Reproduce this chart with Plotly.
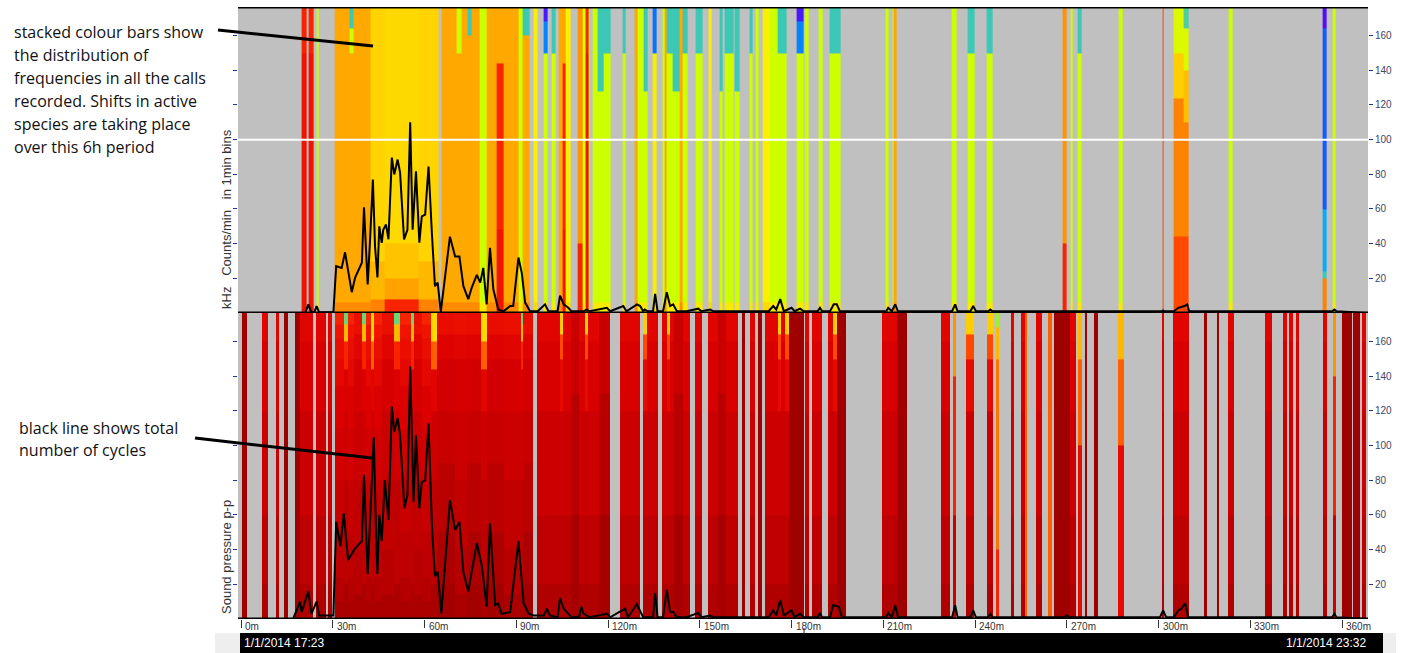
import plotly.graph_objects as go

# ---------------- data ----------------
x_tick_vals = [0, 30, 60, 90, 120, 150, 180, 210, 240, 270, 300, 330, 360]
x_tick_text = ["0m", "30m", "60m", "90m", "120m", "150m", "180m", "210m",
               "240m", "270m", "300m", "330m", "360m"]
y_tick_vals = [20, 40, 60, 80, 100, 120, 140, 160]
start_label = "1/1/2014 17:23"
end_label = "1/1/2014 23:32"
top_title = "kHz\u00a0\u00a0\u00a0Counts/min\u00a0\u00a0\u00a0in 1min bins"
bottom_title = "Sound pressure p-p"

# (start minute, end minute, colour-profile code) for the frequency panel
top_bars = [
    (19.8, 21.5, 'r'), (22.0, 23.6, 'r'), (24.7, 25.5, 'g'),
    (30.7, 35.6, 'o'), (35.6, 36.7, 'oc'), (36.7, 42.2, 'o'),
    (42.2, 47.0, 'y'), (47.0, 58.0, 'y2'), (58.0, 64.5, 'y'),
    (65.5, 70.6, 'o'), (70.6, 72.0, 'oG'), (72.0, 74.0, 'o'), (74.0, 75.5, 'oC'),
    (75.5, 78.0, 'o'), (78.0, 80.4, 'g'), (80.4, 83.7, 'o'), (83.7, 85.8, 'R'),
    (85.8, 90.6, 'o'), (90.6, 92.2, 'g'), (92.2, 94.5, 'oC'),
    (95.5, 97.1, 'Y'), (98.8, 100.4, 'p'),
    (101.7, 102.7, 'c'), (103.7, 105.0, 'o'), (105.0, 106.2, 'R'), (106.2, 107.6, 'Y'),
    (109.9, 111.8, 'Or'), (111.8, 112.8, 'g'), (112.8, 113.5, 'r'), (113.5, 114.1, 'g'),
    (114.8, 116.7, 'g'), (116.7, 118.4, 'c2'), (118.4, 120.7, 'c'),
    (124.6, 125.6, 'c'), (128.8, 129.8, 'o'), (129.8, 131.5, 'g'), (131.5, 132.8, 'c2'),
    (134.7, 136.0, 'Yb'), (137.7, 138.5, 'g'), (138.5, 139.2, 'o'), (139.2, 141.0, 'c'),
    (141.0, 143.5, 'c2'), (143.5, 144.3, 'o'), (144.3, 146.0, 'c'),
    (148.5, 150.8, 'c'), (152.8, 154.0, 'Y'), (156.6, 157.6, 'c2'), (158.2, 160.9, 'c'),
    (161.5, 163.1, 'c2'), (166.4, 167.4, 'c'), (168.3, 169.3, 'g'), (170.7, 172.9, 'Y'),
    (172.9, 175.6, 'g'), (175.6, 178.5, 'c'),
    (181.8, 183.8, 'p'), (184.4, 185.7, 'g'), (188.7, 190.0, 'g'), (192.6, 195.9, 'c'),
    (210.6, 211.6, 'g'), (212.9, 213.5, 'g'), (213.5, 214.5, 'o'),
    (232.5, 234.1, 'g'), (237.7, 240.0, 'c'), (243.9, 245.9, 'c'),
    (268.8, 270.1, 'Or'), (271.1, 272.0, 'g'), (273.7, 275.0, 'c'), (286.8, 288.1, 'g'),
    (301.2, 301.8, 'n'), (304.8, 308.3, 'F'), (308.3, 309.7, 'F2'),
    (322.8, 324.1, 'g'), (353.8, 355.1, 'B'), (357.0, 358.0, 'g'),
]

# (start minute, end minute, colour-profile code) for the sound pressure panel
bottom_bars = [
    (0.3, 2.0, 'd'), (6.9, 8.8, 'r'), (11.4, 12.4, 'r'), (14.0, 15.4, 'd'),
    (17.7, 19.3, 'd'), (19.3, 23.5, 'r'), (24.5, 27.8, 'r'), (28.4, 29.8, 'r'),
    (30.7, 33.7, 'M'), (33.7, 34.8, 'Mc'), (34.8, 37.0, 'M'), (37.0, 39.7, 'M2'),
    (39.7, 40.8, 'Mc'), (40.8, 42.5, 'M'), (42.5, 43.6, 'My'), (43.6, 46.0, 'M'),
    (46.0, 50.0, 'M2'), (50.0, 52.0, 'Mc'), (52.0, 55.6, 'M'), (55.6, 56.7, 'Mc'),
    (56.7, 59.0, 'M2'), (59.0, 62.0, 'M'), (62.0, 64.0, 'My'),
    (64.0, 70.0, 'N'), (70.0, 74.0, 'M2'), (74.0, 78.5, 'N'), (78.5, 80.5, 'My'),
    (80.5, 86.0, 'N'), (86.0, 91.5, 'M2'), (91.5, 92.2, 'Mc'), (92.2, 95.5, 'N'),
    (96.8, 104.3, 'r'), (104.3, 105.3, 'ry'), (105.3, 108.0, 'r'), (108.0, 110.5, 'r2'),
    (110.5, 112.5, 'r'), (112.5, 113.5, 'ry'), (113.5, 117.0, 'r'), (117.0, 120.7, 'r2'),
    (123.9, 130.4, 'r'), (131.4, 132.8, 'ry'), (132.8, 136.3, 'r'),
    (137.7, 139.3, 'r'), (139.3, 140.3, 'ry'), (140.3, 141.5, 'r'), (141.5, 144.5, 'r2'),
    (144.5, 146.8, 'r'), (148.5, 150.8, 'r'), (152.8, 156.0, 'r'), (156.0, 158.5, 'r2'),
    (158.5, 162.5, 'r'), (163.8, 164.8, 'd'), (166.4, 168.0, 'r'), (169.0, 170.4, 'd'),
    (171.3, 175.6, 'r'), (175.6, 176.6, 'ry'), (176.6, 178.0, 'r'), (178.0, 179.2, 'ry'),
    (179.2, 184.0, 'd'), (184.4, 185.7, 'r'), (186.7, 190.0, 'r'),
    (191.9, 193.6, 'r'), (193.6, 194.9, 'ry'), (194.9, 197.8, 'd'),
    (209.6, 214.5, 'r'), (214.5, 217.8, 'd'),
    (228.8, 231.7, 'r'), (232.8, 233.8, 'a'), (237.0, 239.6, 'ry'), (243.9, 245.9, 'ry'),
    (246.9, 247.9, 'G'), (251.8, 252.8, 'r'), (255.0, 256.3, 'r'), (256.3, 257.0, 'o'),
    (260.0, 262.0, 'r'), (264.0, 265.3, 'o'), (265.9, 271.1, 'd'), (271.1, 273.0, 'r'),
    (273.7, 275.0, 'ao'), (276.0, 276.7, 'd'), (279.0, 280.2, 'd'), (286.8, 288.8, 'ao'),
    (301.2, 301.8, 'r'), (304.8, 310.0, 'r'), (314.9, 315.8, 'd'), (319.1, 319.8, 'd'),
    (322.8, 324.8, 'r'), (334.8, 337.1, 'r'), (340.7, 342.0, 'r'), (342.6, 343.9, 'r'),
    (345.0, 346.0, 'r'), (353.8, 355.1, 'r'), (357.0, 358.0, 'a'),
    (360.0, 363.3, 'd'), (363.6, 366.0, 'd'), (366.4, 368.0, 'r'),
]

# colour level (0 = violet ... 1 = dark red) from a height (kHz / p-p) upward
top_profiles = {
    'r':  [(0, 0.86), (150, 0.84)],
    'o':  [(0, 0.73), (6, 0.69)],
    'oc': [(0, 0.73), (6, 0.69), (150, 0.47), (165, 0.3)],
    'oG': [(0, 0.73), (6, 0.69), (150, 0.47)],
    'oC': [(0, 0.73), (6, 0.69), (160, 0.3)],
    'y':  [(0, 0.74), (8, 0.66), (30, 0.61)],
    'y2': [(0, 0.84), (8, 0.7), (20, 0.64), (40, 0.6)],
    'g':  [(0, 0.56), (6, 0.47)],
    'c':  [(0, 0.56), (6, 0.47), (150, 0.3)],
    'c2': [(0, 0.56), (6, 0.47), (128, 0.3)],
    'p':  [(0, 0.56), (6, 0.47), (150, 0.12), (168, 0.02)],
    'Y':  [(0, 0.6), (6, 0.55)],
    'Yb': [(0, 0.6), (6, 0.55), (150, 0.1)],
    'R':  [(0, 0.86), (48, 0.84), (144, 0.69)],
    'Or': [(0, 0.84), (40, 0.72)],
    'n':  [(0, 0.8)],
    'F':  [(0, 0.8), (45, 0.74), (125, 0.62), (150, 0.5)],
    'F2': [(0, 0.8), (45, 0.74), (110, 0.65), (140, 0.5), (165, 0.32)],
    'B':  [(0, 0.74), (20, 0.3), (25, 0.18), (60, 0.08), (165, 0.01)],
}
bottom_profiles = {
    'd':  [(0, 0.99)],
    'r':  [(0, 0.965), (20, 0.945), (60, 0.925), (120, 0.905), (160, 0.89)],
    'r2': [(0, 0.98), (60, 0.955), (130, 0.93)],
    'ry': [(0, 0.965), (20, 0.945), (60, 0.925), (120, 0.88), (150, 0.8), (165, 0.62)],
    'M':  [(0, 0.975), (10, 0.96), (25, 0.945), (50, 0.93), (80, 0.915), (110, 0.9),
           (135, 0.885), (150, 0.872), (162, 0.86), (170, 0.84)],
    'M2': [(0, 0.975), (15, 0.955), (40, 0.94), (80, 0.925), (120, 0.91), (150, 0.89),
           (165, 0.87)],
    'N':  [(0, 0.985), (20, 0.97), (50, 0.95), (90, 0.93), (120, 0.915), (150, 0.895),
           (165, 0.875)],
    'Mc': [(0, 0.975), (20, 0.945), (80, 0.92), (120, 0.9), (145, 0.84), (160, 0.66),
           (170, 0.35)],
    'My': [(0, 0.975), (20, 0.945), (80, 0.92), (120, 0.89), (145, 0.78), (160, 0.6)],
    'a':  [(0, 0.92), (60, 0.84), (140, 0.72)],
    'ao': [(0, 0.88), (100, 0.78), (150, 0.66)],
    'o':  [(0, 0.78)],
    'G':  [(0, 0.84), (40, 0.76), (150, 0.66), (168, 0.42)],
}

# black line: (minute, value)
top_counts = [
    (0, 0), (21, 0), (22, 5), (23, 0.5), (24, 0.5), (24.7, 4), (25.5, 0.5), (30.2, 0.5),
    (31.1, 27), (32.9, 26), (34.0, 35), (36.2, 12), (37.3, 20.5), (39.5, 29), (40.2, 61),
    (41.4, 16.5), (42.2, 42.5), (43.1, 77), (43.8, 38.5), (44.6, 20.5), (45.2, 50),
    (46.0, 40.5), (46.5, 48), (47.4, 51), (48.2, 42.5), (49.3, 89.6), (50.1, 79.9),
    (51.2, 88.5), (52.0, 81), (53.3, 42.5), (54.4, 48), (55.3, 110), (56.1, 48),
    (57.2, 81.7), (58.3, 40.5), (59.1, 55.7), (60.2, 56.8), (61.3, 84.5), (62.4, 46),
    (63.4, 15.5), (64.3, 17.5), (65.3, 0.5), (68.3, 44), (70.0, 32.6), (71.4, 32.6),
    (72.7, 15.5), (74.3, 8), (75.4, 14.5), (77.1, 22), (78.2, 17.5), (79.2, 26), (80.3, 5),
    (81.4, 37.6), (82.5, 13.7), (84.1, 2), (85.8, 1), (88.0, 4), (89.0, 4), (90.7, 32),
    (91.8, 23), (92.9, 6), (94.5, 1), (97, 1), (99.4, 5), (100.5, 1), (103.5, 1),
    (104.3, 10), (105.5, 5), (107, 3), (108, 1), (112, 1), (113, 2), (114, 1),
    (119.6, 3), (120.7, 1), (125, 4), (126, 1), (129.5, 5), (130.5, 4), (131.5, 1),
    (132, 2), (133, 1), (134.7, 1), (135.4, 11), (136.2, 1), (138, 1), (139.2, 12),
    (140.3, 4), (141.3, 5), (142.5, 1), (145.7, 1), (149.5, 2.5), (150.5, 1), (153.4, 2),
    (154.5, 1), (172.5, 1), (174, 4), (175, 2), (176.3, 8), (177.5, 1), (180, 3),
    (181, 1), (182.8, 2.5), (184, 1), (188.5, 1), (189.3, 3), (190, 1), (192.6, 1),
    (193.8, 5), (194.8, 5), (195.8, 1), (211, 1), (211.6, 3), (212.8, 1), (213.9, 5),
    (214.8, 1), (232.5, 1), (233.5, 5), (234.3, 1), (238.5, 1), (239.4, 4), (240.3, 1),
    (244.3, 1), (245, 2), (245.7, 1), (301, 1), (301.5, 1.5), (302, 1), (305, 1),
    (306.5, 3), (308.5, 4), (309.4, 5), (310, 1), (356.8, 1), (357.5, 2), (358.2, 1),
    (368, 0),
]
bottom_counts = [
    (0, 0), (17, 0), (19.3, 10), (19.8, 4), (22, 16), (23, 3), (24.7, 10), (25.5, 2),
    (30.2, 2), (31.1, 56), (32.5, 42), (33.6, 61), (35.0, 34), (37, 40), (39.5, 45),
    (40.2, 83), (41.4, 26), (42.2, 56), (43.4, 105), (44.2, 45), (44.6, 26), (45.2, 60),
    (46.0, 45), (47.0, 80), (48.2, 57), (49.3, 122.5), (50.1, 108), (51.2, 115.8),
    (52.0, 106), (53.4, 63.9), (54.4, 71.5), (55.3, 145.6), (56.4, 67.7), (57.2, 106),
    (58.3, 63.9), (59.1, 79), (60.2, 80), (61.3, 112.9), (62.4, 54), (63.4, 24.5),
    (64.3, 27.3), (65.5, 3.3), (68.3, 68.6), (70.0, 51.3), (71.4, 56), (72.7, 27),
    (74.3, 15.8), (75.4, 27), (77.1, 43.7), (78.7, 31), (80.3, 7), (81.4, 55), (83.1, 8),
    (84.1, 9), (85.2, 3), (88.0, 4), (90.7, 45), (92.4, 9), (94.1, 3), (95.7, 2),
    (99.0, 2), (100.0, 6), (101.0, 2), (103.5, 1), (104.3, 12), (105.5, 6), (107, 3),
    (108, 1), (110.5, 1), (111.3, 7), (112, 3), (113, 2), (114, 1), (119.6, 3),
    (120.7, 1), (125.6, 6), (126.5, 1), (129.4, 8.5), (130.5, 5), (131.5, 1), (134.7, 1),
    (135.4, 15), (136.2, 1), (138, 1), (139.2, 17), (140.3, 4), (141.3, 4), (142.5, 1),
    (145.7, 1), (149.5, 3.5), (150.5, 1), (153.4, 2), (154.5, 1), (172.5, 1), (174, 5),
    (175, 2), (176.3, 11), (177.5, 2), (180, 5), (181, 1), (182.8, 3), (184, 1),
    (188.5, 1), (189.3, 3.5), (190, 1), (192.6, 1), (193.6, 8), (195.5, 7), (196.5, 1),
    (211, 1), (211.6, 3.5), (212.8, 1), (213.9, 8), (214.8, 1), (232.5, 1), (233.5, 8),
    (234.3, 1), (238.5, 1), (239.4, 5), (240.3, 1), (244.3, 1), (245, 3), (245.7, 1),
    (269, 1), (270, 2), (271, 1), (300.5, 1), (301.5, 5), (302.5, 1), (305, 1),
    (306.5, 5), (307.5, 6), (308.7, 9), (309.7, 1), (356.8, 1), (357.5, 3), (358.2, 1),
    (368, 0),
]

# ---------------- build heatmap grids ----------------
y_edges = [2.0 * i for i in range(90)]            # 0 .. 178
y_centres = [(y_edges[i] + y_edges[i + 1]) / 2 for i in range(len(y_edges) - 1)]


def level(profile, y):
    z = profile[0][1]
    for ys, zv in profile:
        if y >= ys:
            z = zv
    return z


def build(bars, profiles):
    edges = sorted(set([b[0] for b in bars] + [b[1] for b in bars]))
    cols = []
    for i in range(len(edges) - 1):
        mid = (edges[i] + edges[i + 1]) / 2
        code = None
        for s, e, c in bars:
            if s <= mid < e:
                code = c
                break
        if code is None:
            cols.append([None] * len(y_centres))
        else:
            cols.append([level(profiles[code], y) for y in y_centres])
    z = [[cols[j][i] for j in range(len(cols))] for i in range(len(y_centres))]
    return edges, z


top_x, top_z = build(top_bars, top_profiles)
bot_x, bot_z = build(bottom_bars, bottom_profiles)

colorscale = [
    [0.00, '#6000ff'], [0.06, '#1848ff'], [0.14, '#0098ff'], [0.22, '#10c0e8'],
    [0.30, '#3cc8b4'], [0.40, '#90e840'], [0.47, '#ccff00'], [0.55, '#f8f000'],
    [0.61, '#ffd400'], [0.66, '#ffb800'], [0.70, '#ffa200'], [0.76, '#ff7400'],
    [0.82, '#ff3400'], [0.86, '#f01400'], [0.90, '#dc0000'], [0.94, '#c20000'],
    [1.00, '#980000'],
]

X_MIN, X_MAX = -1, 368.5
Y_MAX = 176.5

fig = go.Figure()
fig.add_trace(go.Heatmap(x=top_x, y=y_edges, z=top_z, xaxis='x2', yaxis='y2',
                         colorscale=colorscale, zmin=0, zmax=1, showscale=False,
                         hoverinfo='skip'))
fig.add_trace(go.Heatmap(x=bot_x, y=y_edges, z=bot_z, xaxis='x', yaxis='y',
                         colorscale=colorscale, zmin=0, zmax=1, showscale=False,
                         hoverinfo='skip'))
# white reference line at 100 (top panel)
fig.add_trace(go.Scatter(x=[X_MIN, X_MAX], y=[100, 100], mode='lines', xaxis='x2', yaxis='y2',
                         line=dict(color='white', width=2), hoverinfo='skip'))
fig.add_trace(go.Scatter(x=[p[0] for p in top_counts], y=[p[1] for p in top_counts],
                         mode='lines', xaxis='x2', yaxis='y2',
                         line=dict(color='black', width=2), hoverinfo='skip'))
fig.add_trace(go.Scatter(x=[p[0] for p in bottom_counts], y=[p[1] for p in bottom_counts],
                         mode='lines', xaxis='x', yaxis='y',
                         line=dict(color='black', width=2), hoverinfo='skip'))

L, R, T, B = 238, 37, 7, 34
W, H = 1405, 653
PW, PH = W - L - R, H - T - B


def px(xp):
    return (xp - L) / PW


def py(yp):
    return (H - B - yp) / PH


yaxis_common = dict(range=[0, Y_MAX], side='right', tickvals=y_tick_vals, ticks='outside',
                    ticklen=4, tickwidth=1, tickcolor='#2030a0', mirror='ticks',
                    showline=False, showgrid=False, zeroline=False,
                    tickfont=dict(family='Arial, Liberation Sans', size=10, color='#3c4668'))

fig.update_layout(
    width=W, height=H, margin=dict(l=L, r=R, t=T, b=B),
    paper_bgcolor='white', plot_bgcolor='#c0c0c0', showlegend=False,
    xaxis=dict(domain=[0, 1], range=[X_MIN, X_MAX], anchor='y', tickvals=x_tick_vals,
               showticklabels=False, ticks='outside', ticklen=8, tickcolor='#333',
               showgrid=False, zeroline=False, showline=False),
    xaxis2=dict(domain=[0, 1], range=[X_MIN, X_MAX], anchor='y2', matches='x',
                showticklabels=False, ticks='', showgrid=False, zeroline=False),
    yaxis=dict(domain=[0, 0.5], anchor='x', **yaxis_common),
    yaxis2=dict(domain=[0.5, 1], anchor='x2', **yaxis_common),
)

shapes = [
    dict(type='line', xref='x2', yref='y2', x0=X_MIN, x1=X_MAX, y0=Y_MAX, y1=Y_MAX,
         line=dict(color='black', width=3)),
    dict(type='line', xref='x2', yref='y2', x0=X_MIN, x1=X_MAX, y0=0, y1=0,
         line=dict(color='black', width=3)),
    dict(type='line', xref='x', yref='y', x0=X_MIN, x1=X_MAX, y0=0, y1=0,
         line=dict(color='black', width=3)),
    dict(type='rect', xref='paper', yref='paper', x0=px(215), x1=px(1396), y0=py(653), y1=py(633),
         fillcolor='#eeeeee', line=dict(width=0), layer='below'),
    dict(type='rect', xref='paper', yref='paper', x0=px(240), x1=px(1383), y0=py(653), y1=py(633),
         fillcolor='black', line=dict(width=0)),
    dict(type='line', xref='paper', yref='paper', x0=px(804), x1=px(804), y0=py(628), y1=py(635),
         line=dict(color='#222', width=1)),
    dict(type='line', xref='paper', yref='paper', x0=px(218), x1=px(373), y0=py(30), y1=py(46),
         line=dict(color='black', width=3)),
    dict(type='line', xref='paper', yref='paper', x0=px(195), x1=px(372), y0=py(438), y1=py(458),
         line=dict(color='black', width=3)),
]
fig.update_layout(shapes=shapes)

ann = []
for v, t in zip(x_tick_vals, x_tick_text):
    ann.append(dict(x=v, xref='x', y=py(626), yref='paper', text=t, showarrow=False,
                    xanchor='left', yanchor='middle', xshift=2,
                    font=dict(family='Arial, Liberation Sans', size=10, color='#333')))
ann.append(dict(x=px(242), xref='paper', y=py(643), yref='paper', text=start_label,
                showarrow=False, xanchor='left', yanchor='middle',
                font=dict(family='Arial, Liberation Sans', size=12, color='white')))
ann.append(dict(x=px(1368), xref='paper', y=py(643), yref='paper', text=end_label,
                showarrow=False, xanchor='right', yanchor='middle',
                font=dict(family='Arial, Liberation Sans', size=12, color='white')))
ann.append(dict(x=px(226), xref='paper', y=py(311), yref='paper', text=top_title,
                showarrow=False, textangle=-90, xanchor='center', yanchor='bottom',
                font=dict(family='Arial, Liberation Sans', size=13, color='#333')))
ann.append(dict(x=px(226), xref='paper', y=py(616), yref='paper', text=bottom_title,
                showarrow=False, textangle=-90, xanchor='center', yanchor='bottom',
                font=dict(family='Arial, Liberation Sans', size=13, color='#333')))

note1 = ["stacked colour bars show", "the distribution of", "frequencies in all the calls",
         "recorded. Shifts in active", "species are taking place", "over this 6h period"]
note2 = ["black line shows total", "number of cycles"]
for i, line in enumerate(note1):
    ann.append(dict(x=px(12), xref='paper', y=py(32 + 23 * i), yref='paper', text=line,
                    showarrow=False, xanchor='left', yanchor='middle',
                    font=dict(family='Open Sans', size=16, color='#111')))
for i, line in enumerate(note2):
    ann.append(dict(x=px(17), xref='paper', y=py(428 + 22 * i), yref='paper', text=line,
                    showarrow=False, xanchor='left', yanchor='middle',
                    font=dict(family='Open Sans', size=16, color='#111')))
fig.update_layout(annotations=ann)

# remove the browser's default 8px body margin so the figure sits at the page origin
fig.write_html("out.html", config={'displayModeBar': False},
               post_script="document.body.style.margin='0px';")
